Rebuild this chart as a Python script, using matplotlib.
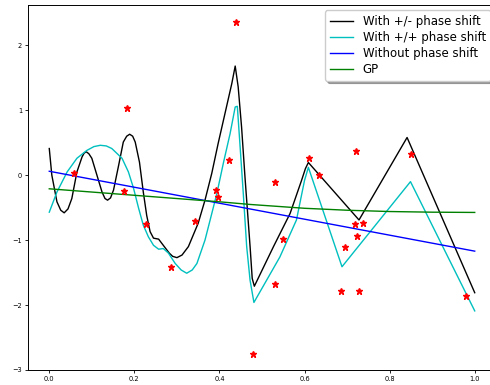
import matplotlib
matplotlib.use('Agg')
import matplotlib.pyplot as plt

# observed samples
obs_x = [0.059, 0.175, 0.182, 0.227, 0.286, 0.343, 0.391, 0.397, 0.423, 0.438,
         0.480, 0.531, 0.531, 0.550, 0.610, 0.634, 0.685, 0.696, 0.719, 0.722,
         0.724, 0.728, 0.738, 0.850, 0.980]
obs_y = [0.035, -0.24, 1.035, -0.75, -1.41, -0.70, -0.235, -0.34, 0.24, 2.36,
         -2.75, -0.11, -1.67, -0.985, 0.27, 0.01, -1.78, -1.10, -0.75, 0.37,
         -0.93, -1.78, -0.73, 0.33, -1.86]

# with +/- phase shift
pm_x = [0.0, 0.006, 0.018, 0.027, 0.035, 0.044, 0.053, 0.065, 0.077, 0.082,
        0.087, 0.093, 0.100, 0.112, 0.124, 0.131, 0.137, 0.144, 0.151, 0.163,
        0.174, 0.182, 0.189, 0.196, 0.202, 0.212, 0.221, 0.229, 0.237, 0.245,
        0.257, 0.268, 0.282, 0.29, 0.30, 0.312, 0.327, 0.350, 0.366, 0.382,
        0.397, 0.413, 0.429, 0.437, 0.444, 0.452, 0.46, 0.472, 0.477, 0.482,
        0.527, 0.566, 0.593, 0.602, 0.609, 0.728, 0.841, 1.0]
pm_y = [0.41, 0.0, -0.41, -0.54, -0.58, -0.52, -0.36, 0.05, 0.28, 0.34,
        0.36, 0.33, 0.26, 0.0, -0.26, -0.36, -0.385, -0.35, -0.23, 0.15,
        0.51, 0.6, 0.63, 0.6, 0.51, 0.2, -0.26, -0.62, -0.87, -0.97,
        -0.985, -1.08, -1.2, -1.25, -1.27, -1.23, -1.10, -0.74, -0.385, 0.03,
        0.49, 0.95, 1.41, 1.68, 1.36, 0.74, -0.03, -1.10, -1.59, -1.71,
        -1.10, -0.59, -0.08, 0.1, 0.195, -0.69, 0.58, -1.81]

# with +/+ phase shift
pp_x = [0.0, 0.018, 0.042, 0.065, 0.088, 0.105, 0.12, 0.134, 0.147, 0.171,
        0.186, 0.198, 0.21, 0.221, 0.233, 0.245, 0.257, 0.268, 0.28, 0.296,
        0.31, 0.323, 0.336, 0.347, 0.366, 0.382, 0.394, 0.409, 0.425, 0.437,
        0.442, 0.448, 0.456, 0.464, 0.472, 0.481, 0.542, 0.581, 0.60, 0.609,
        0.688, 0.849, 1.0]
pp_y = [-0.57, -0.26, 0.05, 0.26, 0.38, 0.44, 0.46, 0.45, 0.41, 0.26,
        0.05, -0.2, -0.51, -0.77, -0.95, -1.08, -1.14, -1.13, -1.2, -1.36,
        -1.46, -1.51, -1.46, -1.36, -1.0, -0.59, -0.28, 0.18, 0.64, 1.05,
        1.06, 0.49, -0.28, -1.10, -1.62, -1.96, -1.26, -0.69, -0.08, 0.12,
        -1.41, -0.10, -2.09]

# without phase shift
lin_x = [0.0, 1.0]
lin_y = [0.06, -1.17]

# GP mean
gp_x = [0.0, 0.1, 0.2, 0.3, 0.4, 0.47, 0.6, 0.7, 0.8, 0.9, 1.0]
gp_y = [-0.21, -0.26, -0.31, -0.36, -0.41, -0.45, -0.51, -0.54, -0.56, -0.57, -0.574]

fig = plt.figure(figsize=(4.9, 3.85), dpi=100)
ax = fig.add_axes([28 / 490, 15 / 385, 468 / 490, 365 / 385])

ax.plot(pm_x, pm_y, color='black', lw=1.0, label='With +/- phase shift')
ax.plot(pp_x, pp_y, color='c', lw=1.0, label='With +/+ phase shift')
ax.plot(lin_x, lin_y, color='blue', lw=1.0, label='Without phase shift')
ax.plot(gp_x, gp_y, color='green', lw=1.0, label='GP')
ax.plot(obs_x, obs_y, 'r*', markersize=5)

ax.set_xlim(-0.05, 1.05)
ax.set_ylim(-3, 2.62)
ax.set_xticks([0.0, 0.2, 0.4, 0.6, 0.8, 1.0])
ax.set_yticks([-3, -2, -1, 0, 1, 2])
ax.tick_params(labelsize=4.8, length=2.3, width=0.6, pad=2)
for s in ax.spines.values():
    s.set_linewidth(0.7)

ax.legend(loc='upper right', fontsize=8.5, shadow=True, borderaxespad=0.45,
          handlelength=2.0, labelspacing=0.25)

fig.savefig('out.png', dpi=100)
